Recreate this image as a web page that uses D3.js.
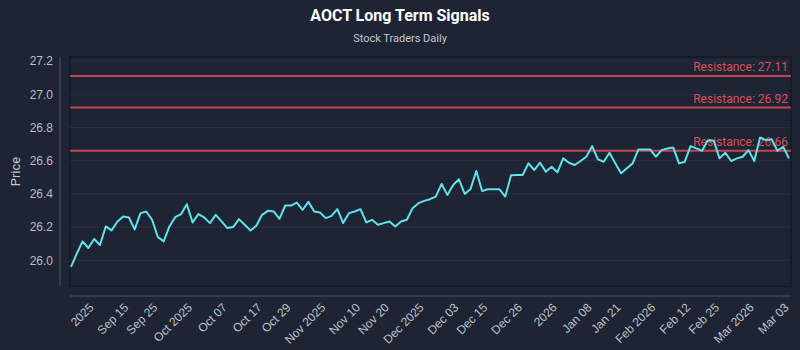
<!DOCTYPE html>
<meta charset="utf-8">
<style>
    body { margin: 0; background: #1e2433; }
    svg { display: block; font-family: Roboto, "Noto Sans", sans-serif; }
</style>
<body>
<div id="chart"></div>
<script src="https://d3js.org/d3.v7.min.js"></script>
<script>
    // closing prices, one per trading day
    var prices = [
        25.96, 26.04, 26.114, 26.074, 26.128, 26.092, 26.204, 26.18, 26.232, 26.264,
        26.258, 26.186, 26.284, 26.294, 26.244, 26.14, 26.114, 26.204, 26.26, 26.278,
        26.338, 26.228, 26.278, 26.258, 26.224, 26.274, 26.234, 26.194, 26.2, 26.248,
        26.214, 26.18, 26.208, 26.274, 26.298, 26.294, 26.25, 26.33, 26.33, 26.348,
        26.304, 26.352, 26.294, 26.288, 26.254, 26.268, 26.308, 26.224, 26.284, 26.294,
        26.308, 26.228, 26.244, 26.214, 26.224, 26.234, 26.204, 26.234, 26.244, 26.314,
        26.344, 26.358, 26.368, 26.384, 26.46, 26.394, 26.454, 26.488, 26.4, 26.43,
        26.538, 26.418, 26.428, 26.428, 26.428, 26.384, 26.512, 26.514, 26.514, 26.584,
        26.544, 26.588, 26.534, 26.564, 26.53, 26.614, 26.588, 26.574, 26.598, 26.624,
        26.688, 26.608, 26.594, 26.648, 26.584, 26.524, 26.554, 26.584, 26.668, 26.668,
        26.668, 26.624, 26.664, 26.674, 26.68, 26.584, 26.594, 26.688, 26.674, 26.66,
        26.724, 26.72, 26.614, 26.648, 26.598, 26.614, 26.624, 26.664, 26.598, 26.74,
        26.724, 26.73, 26.66, 26.684, 26.614
    ];

    var resistance = [27.11, 26.92, 26.66];

    var tickIndex = [4, 10, 15, 21, 27, 33, 38, 44, 50, 55, 61, 67, 72, 78, 84, 90, 95, 101, 107, 112, 118, 124];
    var tickLabels = ["2025", "Sep 15", "Sep 25", "Oct 2025", "Oct 07", "Oct 17", "Oct 29", "Nov 2025",
        "Nov 10", "Nov 20", "Dec 2025", "Dec 03", "Dec 15", "Dec 26", "2026", "Jan 08", "Jan 21",
        "Feb 2026", "Feb 12", "Feb 25", "Mar 2026", "Mar 03"];

    var yTicks = [26.0, 26.2, 26.4, 26.6, 26.8, 27.0, 27.2];

    var width = 800,
        height = 350,
        plot = { left: 70, right: 791, top: 57, bottom: 286 };

    var svg = d3.select("#chart").append("svg")
        .attr("width", width)
        .attr("height", height);

    svg.append("rect")
        .attr("width", width)
        .attr("height", height)
        .attr("fill", "#1e2433");

    var lo = d3.min(prices), hi = d3.max(resistance), pad = (hi - lo) * 0.1;

    var x = d3.scaleLinear()
        .domain([0, prices.length - 1])
        .range([plot.left + 1, plot.right - 2]);

    var y = d3.scaleLinear()
        .domain([lo - pad, hi + pad])
        .range([plot.bottom, plot.top]);

    // title
    svg.append("text")
        .attr("x", width / 2)
        .attr("y", 21)
        .attr("text-anchor", "middle")
        .style("font-size", "16px")
        .style("font-weight", "bold")
        .style("fill", "#ffffff")
        .text("AOCT Long Term Signals");

    svg.append("text")
        .attr("x", width / 2)
        .attr("y", 42)
        .attr("text-anchor", "middle")
        .style("font-size", "11px")
        .style("fill", "#c3c7d0")
        .text("Stock Traders Daily");

    // plot frame
    svg.append("rect")
        .attr("x", plot.left)
        .attr("y", plot.top)
        .attr("width", plot.right - plot.left)
        .attr("height", plot.bottom - plot.top)
        .attr("fill", "#1e2433")
        .attr("stroke", "#131824")
        .attr("stroke-width", 1.5);

    // grid
    svg.append("g")
        .selectAll("line")
        .data(yTicks)
        .enter().append("line")
        .attr("x1", plot.left)
        .attr("x2", plot.right)
        .attr("y1", function(d) { return y(d); })
        .attr("y2", function(d) { return y(d); })
        .attr("stroke", "#ffffff")
        .attr("stroke-opacity", 0.06);

    // y axis, offset from plot
    var yAxis = svg.append("g")
        .attr("transform", "translate(" + (plot.left - 10) + ",0)")
        .call(d3.axisLeft(y).tickValues(yTicks).tickFormat(d3.format(".1f")).tickSize(0).tickPadding(7));
    yAxis.select(".domain")
        .attr("d", "M0," + plot.top + "V" + plot.bottom)
        .attr("stroke", "#4b5264");
    yAxis.selectAll("text")
        .style("font-size", "12px")
        .style("fill", "#b7bcc7");

    svg.append("text")
        .attr("transform", "translate(20," + ((plot.top + plot.bottom) / 2) + ") rotate(-90)")
        .attr("text-anchor", "middle")
        .style("font-size", "13px")
        .style("fill", "#c3c7d0")
        .text("Price");

    // x axis, offset from plot
    var xAxis = svg.append("g")
        .attr("transform", "translate(0," + (plot.bottom + 10) + ")")
        .call(d3.axisBottom(x).tickValues(tickIndex)
            .tickFormat(function(d, i) { return tickLabels[i]; })
            .tickSize(0).tickPadding(4));
    xAxis.select(".domain")
        .attr("d", "M" + plot.left + ",0H" + plot.right)
        .attr("stroke", "#4b5264");
    xAxis.selectAll("text")
        .style("font-size", "12px")
        .style("fill", "#bcc1cb")
        .attr("text-anchor", "end")
        .attr("dx", "-0.73em")
        .attr("dy", "0.38em")
        .attr("transform", "rotate(-45)");

    // resistance levels
    var res = svg.append("g");
    res.selectAll("line")
        .data(resistance)
        .enter().append("line")
        .attr("x1", plot.left)
        .attr("x2", plot.right)
        .attr("y1", function(d) { return y(d); })
        .attr("y2", function(d) { return y(d); })
        .attr("stroke", "#c2464f")
        .attr("stroke-width", 2);
    res.selectAll("text")
        .data(resistance)
        .enter().append("text")
        .attr("x", plot.right - 3)
        .attr("y", function(d) { return y(d) - 5; })
        .attr("text-anchor", "end")
        .style("font-size", "12px")
        .style("fill", "#d9505a")
        .text(function(d) { return "Resistance: " + d.toFixed(2); });

    // price line
    var line = d3.line()
        .x(function(d, i) { return x(i); })
        .y(function(d) { return y(d); });

    svg.append("path")
        .datum(prices)
        .attr("d", line)
        .attr("fill", "none")
        .attr("stroke", "#5ee3ea")
        .attr("stroke-width", 2)
        .attr("stroke-linejoin", "round");
</script>
</body>
</html>
